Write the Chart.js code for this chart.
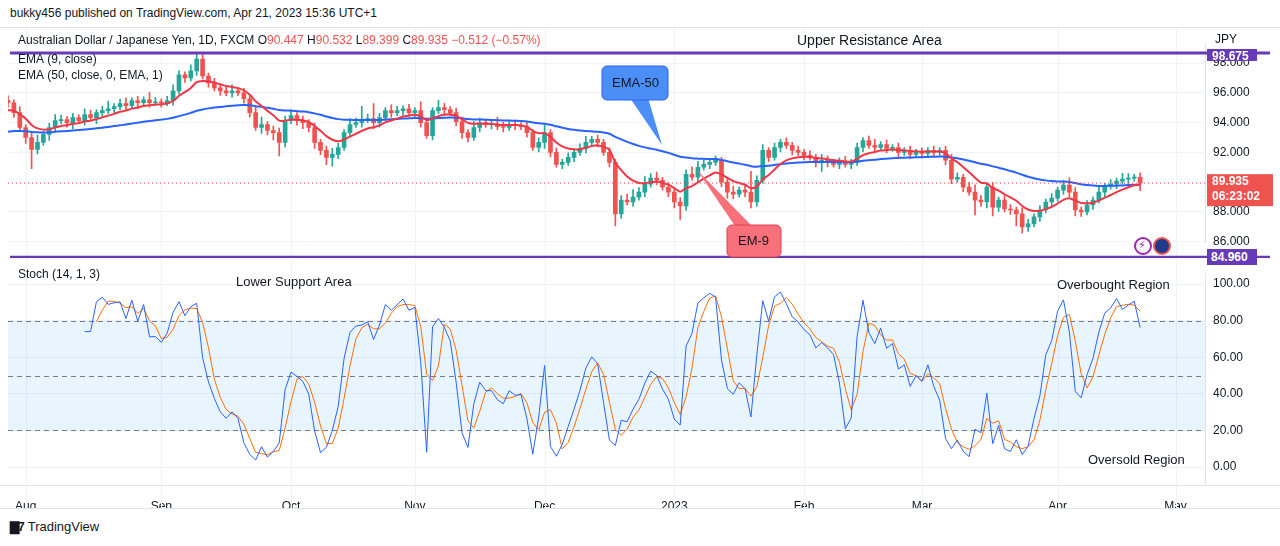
<!doctype html>
<html lang="en">
<head>
<meta charset="utf-8" />
<title>AUDJPY 1D</title>
<style>
  body { margin: 0; background: #fff; font-family: "Liberation Sans", Arial, sans-serif; color: #131722; }
  #wrap { position: relative; width: 1280px; height: 546px; overflow: hidden; }
  .abs { position: absolute; }
  #top { left: 0; top: 28px; }
  #bot { left: 0; top: 258px; }
  #hdr { left: 10px; top: 6px; font-size: 12px; }
  #logo { left: 10px; top: 519px; font-size: 13px; }
  #logo b { font-size: 12px; letter-spacing: -1px; margin-right: 4px; }
  #sup { left: 1207px; top: 249px; width: 46px; height: 16px; line-height: 16px; padding-left: 4px;
         background: #673ab7; color: #fff; font-weight: bold; font-size: 12px; z-index: 2; }
</style>
</head>
<body>
<div id="wrap">
  <div id="hdr" class="abs">bukky456 published on TradingView.com, Apr 21, 2023 15:36 UTC+1</div>
  <div class="abs" style="left:0;top:27px;width:1280px;height:1px;background:#e0e3eb"></div>
  <canvas id="top" class="abs" width="1280" height="230"></canvas>
  <canvas id="bot" class="abs" width="1280" height="250"></canvas>
  <div id="sup" class="abs">84.960</div>
  <div class="abs" style="left:0;top:508px;width:1280px;height:1px;background:#e0e3eb"></div>
  <div id="logo" class="abs"><b>&#x2587;7</b>TradingView</div>
</div>
<script src="https://cdn.jsdelivr.net/npm/chart.js@4.4.1/dist/chart.umd.min.js"></script>
<script>
// daily closes, Jul 27 2022 .. Apr 21 2023
const closes = [
  95.33,94.67,93.67,93.0,92.2,92.67,93.2,93.67,94.13,94.2,
  94.0,94.33,94.13,94.53,94.33,94.67,94.8,94.93,95.07,95.27,
  95.13,95.47,95.33,95.53,95.33,95.4,95.33,95.47,96.13,97.2,
  97.0,97.47,98.27,97.13,96.67,96.33,96.13,96.0,96.13,96.0,
  95.6,94.67,93.67,93.87,93.47,93.33,92.67,94.13,94.47,94.13,
  94.0,93.67,92.67,92.13,91.67,91.87,92.33,93.33,93.87,94.0,
  94.2,94.27,94.0,94.33,94.8,94.67,94.8,94.93,94.67,94.8,
  94.0,93.13,94.8,95.0,94.87,94.67,94.07,93.33,93.0,93.67,
  94.0,93.87,93.87,93.73,93.67,93.87,93.8,93.73,93.33,92.33,
  92.67,93.33,92.0,91.2,91.33,91.67,92.0,92.27,92.67,92.87,
  92.67,92.0,91.33,87.87,88.8,88.67,89.0,89.33,89.87,90.27,
  90.13,89.67,89.33,88.67,88.4,90.53,90.33,91.0,91.2,91.33,
  91.47,90.0,89.33,89.2,89.47,89.33,88.67,90.13,92.13,91.67,
  92.33,92.67,92.47,92.13,92.0,91.8,91.67,91.33,91.47,91.33,
  91.2,91.33,91.2,91.33,92.33,92.8,92.47,92.33,92.53,92.27,
  92.33,92.0,92.13,91.87,92.0,91.93,92.13,92.0,92.13,91.47,
  90.2,90.33,89.67,89.33,88.8,88.67,89.67,88.33,88.8,88.2,
  88.13,87.87,87.0,87.2,87.67,88.13,88.67,88.93,89.47,89.8,
  89.33,88.13,88.0,88.47,88.8,89.33,89.73,89.87,90.07,90.2,
  90.27,90.33,89.935
];
const firstOpen = 95.5;
const upWick = [
  0.3,0.2,0.4,0.2,0.3,0.5,0.2,0.3,0.4,0.3,
  0.2,0.3,0.2,0.4,0.3,0.2,0.3,0.5,0.2,0.3,
  0.4,0.2,0.3,0.2,0.5,0.3,0.2,0.3,0.4,0.3,
  0.2,0.4,0.4,0.3,0.2,0.3,0.2,0.3,0.4,0.2,
  0.3,0.2,0.4,0.5,0.2,0.3,0.3,0.3,0.4,0.2,
  0.3,0.2,0.3,0.2,0.3,0.4,0.3,0.2,0.4,0.3,
  0.9,0.3,1.0,0.3,0.2,0.4,0.3,0.2,0.3,0.2,
  0.6,0.3,0.2,0.5,0.3,0.2,0.3,0.3,0.2,0.4,
  0.3,0.2,0.3,0.5,0.3,0.2,0.3,0.2,0.3,0.2,
  0.3,0.5,0.2,0.3,0.2,0.3,0.2,0.3,0.4,0.2,
  0.3,0.2,0.3,0.2,0.3,0.4,0.5,0.3,0.5,0.3,
  0.4,0.2,0.3,0.2,0.3,0.3,0.5,0.4,0.3,0.2,
  0.3,0.2,0.3,0.4,0.2,0.3,1.4,0.3,0.4,0.2,
  0.3,0.2,0.3,0.2,0.3,0.2,0.3,0.2,0.4,0.3,
  0.2,0.3,0.4,0.2,0.3,0.2,0.3,0.4,0.2,0.3,
  0.2,0.3,0.2,0.3,0.2,0.3,0.2,0.3,0.2,0.3,
  0.4,0.3,0.2,0.3,0.5,0.3,0.2,0.3,0.2,0.3,
  0.3,0.2,0.4,0.3,0.2,0.3,0.2,0.3,0.2,0.3,
  0.5,0.3,0.2,0.3,0.2,0.4,0.2,0.3,0.2,0.4,
  0.3,0.2,0.3
];
const dnWick = [
  0.3,0.3,0.2,0.4,1.3,0.3,0.2,0.4,0.3,0.2,
  0.3,0.4,0.2,0.3,0.2,0.4,0.3,0.2,0.3,0.2,
  0.3,0.2,0.4,0.2,0.3,0.2,0.3,0.2,0.3,0.2,
  0.3,0.2,0.3,0.2,0.3,0.2,0.3,0.2,0.3,0.2,
  0.3,0.3,0.2,0.4,0.3,0.5,0.9,0.3,0.2,0.3,
  0.4,0.3,0.4,0.3,0.5,0.6,0.3,0.2,0.3,0.2,
  0.3,0.2,0.4,0.3,0.2,0.3,0.2,0.3,0.2,0.3,
  0.3,0.2,0.3,0.2,0.3,0.2,0.3,0.4,0.3,0.2,
  0.3,0.2,0.3,0.2,0.3,0.2,0.3,0.2,0.3,0.2,
  0.3,0.4,0.3,0.2,0.3,0.2,0.3,0.2,0.3,0.2,
  0.3,0.2,0.3,0.8,0.3,0.2,0.3,0.2,0.3,0.2,
  0.3,0.2,0.3,0.4,0.9,0.3,0.2,0.3,0.2,0.3,
  0.2,0.3,0.4,0.3,0.2,0.3,0.4,0.3,0.2,0.3,
  0.2,0.3,0.2,0.3,0.2,0.3,0.2,0.3,0.6,0.3,
  0.2,0.3,0.2,0.3,0.2,0.3,0.2,0.3,0.2,0.3,
  0.2,0.3,0.2,0.3,0.2,0.3,0.2,0.3,0.2,0.3,
  0.3,0.2,0.3,0.2,1.0,0.3,0.4,0.6,0.3,0.2,
  0.3,0.8,0.4,0.3,0.2,0.3,0.2,0.3,0.2,0.3,
  0.3,0.4,0.3,0.2,0.3,0.2,0.3,0.2,0.3,0.2,
  0.3,0.2,0.5
];
const ema9Seed = 94.7;
const ema50Seed = 93.3;
const monthLabels = ["Aug", "Sep", "Oct", "Nov", "Dec", "2023", "Feb", "Mar", "Apr", "May"];
const priceTicks = [86, 88, 90, 92, 94, 96, 98];
const stochTicks = [0, 20, 40, 60, 80, 100];
const lastPrice = 89.935;
const resistance = 98.675;
const support = 84.96;

const GREEN = "#26a69a", RED = "#ef5350";

// weekday dates
const dates = [];
let d = new Date(2022, 6, 27);
const total = closes.length + 11;
while (dates.length < total) {
  if (d.getDay() !== 0 && d.getDay() !== 6) dates.push(new Date(d));
  d.setDate(d.getDate() + 1);
}
const labels = dates.map((x) => x.toDateString());
const monthStart = dates.map((x, i) => i > 0 && x.getMonth() !== dates[i - 1].getMonth());

const opens = closes.map((c, i) => (i === 0 ? firstOpen : closes[i - 1]));
const highs = closes.map((c, i) => Math.max(c, opens[i]) + upWick[i]);
const lows = closes.map((c, i) => Math.min(c, opens[i]) - dnWick[i]);
const colors = closes.map((c, i) => (c >= opens[i] ? GREEN : RED));

function ema(values, n, seed) {
  const k = 2 / (n + 1);
  let prev = seed;
  return values.map((v) => (prev = v * k + prev * (1 - k)));
}
const ema9 = ema(closes, 9, ema9Seed);
const ema50 = ema(closes, 50, ema50Seed);

const stochK = closes.map((c, i) => {
  if (i < 13) return null;
  const hh = Math.max(...highs.slice(i - 13, i + 1));
  const ll = Math.min(...lows.slice(i - 13, i + 1));
  return (100 * (c - ll)) / (hh - ll);
});
const stochD = stochK.map((k, i) =>
  i < 15 ? null : (stochK[i] + stochK[i - 1] + stochK[i - 2]) / 3
);

const fixedRight = (w) => (scale) => { scale.width = w; };

function monthGrid(chart) {
  const { ctx, scales } = chart;
  ctx.save();
  ctx.strokeStyle = "#f0f3fa"; ctx.lineWidth = 1;
  monthStart.forEach((m, i) => {
    if (!m) return;
    const x = Math.round(scales.x.getPixelForValue(i)) + 0.5;
    ctx.beginPath(); ctx.moveTo(x, 0); ctx.lineTo(x, chart.height); ctx.stroke();
  });
  ctx.restore();
}

function drawBox(ctx, x, y, w, h, bg, lines, color) {
  ctx.fillStyle = bg;
  ctx.fillRect(x, y, w, h);
  ctx.fillStyle = color || "#fff";
  ctx.font = "bold 12px 'Liberation Sans', Arial";
  ctx.textBaseline = "middle";
  lines.forEach((t, i) => ctx.fillText(t, x + 5, y + 8 + i * 15));
}

const topOverlay = {
  id: "topOverlay",
  beforeDatasetsDraw(chart) { monthGrid(chart); },
  afterDatasetsDraw(chart) {
    const { ctx, chartArea, scales } = chart;
    const y = scales.y;
    ctx.save();
    ctx.strokeStyle = RED; ctx.lineWidth = 1; ctx.setLineDash([1, 3]);
    const yl = y.getPixelForValue(lastPrice);
    ctx.beginPath(); ctx.moveTo(chartArea.left, yl); ctx.lineTo(chartArea.right, yl); ctx.stroke();
    ctx.setLineDash([]);
    ctx.strokeStyle = "#673ab7"; ctx.lineWidth = 3;
    [resistance, support].forEach((v) => {
      const p = y.getPixelForValue(v);
      ctx.beginPath(); ctx.moveTo(10, p); ctx.lineTo(1270, p); ctx.stroke();
    });
    ctx.fillStyle = "#131722";
    ctx.font = "14px 'Liberation Sans', Arial";
    ctx.textBaseline = "middle";
    ctx.fillText("Upper Resistance Area", 797, 13);
    ctx.font = "12px 'Liberation Sans', Arial";
    ctx.fillText("Australian Dollar / Japanese Yen, 1D, FXCM", 18, 13);
    let x = 18 + ctx.measureText("Australian Dollar / Japanese Yen, 1D, FXCM ").width;
    const parts = [["O", "90.447"], ["H", "90.532"], ["L", "89.399"], ["C", "89.935"], ["", "\u22120.512 (\u22120.57%)"]];
    parts.forEach(([a, b]) => {
      ctx.fillStyle = "#131722"; ctx.fillText(a, x, 13); x += ctx.measureText(a).width;
      ctx.fillStyle = RED; ctx.fillText(b, x, 13); x += ctx.measureText(b + " ").width;
    });
    ctx.fillStyle = "#131722";
    ctx.fillText("EMA (9, close)", 18, 32);
    ctx.fillText("EMA (50, close, 0, EMA, 1)", 18, 48);
    ctx.fillText("JPY", 1215, 12);
    // callouts
    ctx.fillStyle = "#4c8ef7"; ctx.strokeStyle = "#2962ff"; ctx.lineWidth = 1;
    ctx.beginPath(); ctx.moveTo(630, 70); ctx.lineTo(662, 117); ctx.lineTo(648, 70); ctx.closePath(); ctx.fill();
    ctx.beginPath(); ctx.roundRect(602, 38, 66, 34, 5); ctx.fill(); ctx.stroke();
    ctx.fillStyle = "#131722"; ctx.font = "13px 'Liberation Sans', Arial";
    ctx.fillText("EMA-50", 612, 55);
    ctx.fillStyle = "#f7707a"; ctx.strokeStyle = "#e0404f";
    ctx.beginPath(); ctx.moveTo(735, 198); ctx.lineTo(697, 142); ctx.lineTo(752, 198); ctx.closePath(); ctx.fill();
    ctx.beginPath(); ctx.roundRect(727, 197, 54, 32, 5); ctx.fill(); ctx.stroke();
    ctx.fillStyle = "#131722";
    ctx.fillText("EM-9", 738, 213);
    // icons
    ctx.lineWidth = 2;
    ctx.strokeStyle = "#9c27b0"; ctx.beginPath(); ctx.arc(1143, 218, 8, 0, Math.PI * 2); ctx.stroke();
    ctx.fillStyle = "#9c27b0"; ctx.font = "bold 11px 'DejaVu Sans'"; ctx.fillText("\u26a1", 1138, 218);
    ctx.strokeStyle = RED; ctx.fillStyle = "#1e3a8a";
    ctx.beginPath(); ctx.arc(1162, 218, 8, 0, Math.PI * 2); ctx.fill(); ctx.stroke();
    // right axis labels
    drawBox(ctx, 1207, yl - 9, 66, 32, RED, ["89.935", "06:23:02"]);
    drawBox(ctx, 1207, y.getPixelForValue(resistance) - 4, 50, 12, "#673ab7", ["98.675"]);
    ctx.restore();
  },
};

const botOverlay = {
  id: "botOverlay",
  beforeDatasetsDraw(chart) {
    monthGrid(chart);
    const { ctx, chartArea, scales } = chart;
    const y = scales.y;
    ctx.save();
    ctx.fillStyle = "rgba(33,150,243,0.1)";
    const y80 = y.getPixelForValue(80), y20 = y.getPixelForValue(20);
    ctx.fillRect(chartArea.left, y80, chartArea.right - chartArea.left, y20 - y80);
    ctx.strokeStyle = "#787b86"; ctx.lineWidth = 1; ctx.setLineDash([5, 4]);
    [80, 50, 20].forEach((v) => {
      const p = Math.round(y.getPixelForValue(v)) + 0.5;
      ctx.beginPath(); ctx.moveTo(chartArea.left, p); ctx.lineTo(chartArea.right, p); ctx.stroke();
    });
    ctx.restore();
  },
  afterDatasetsDraw(chart) {
    const { ctx } = chart;
    ctx.save();
    ctx.fillStyle = "#131722"; ctx.textBaseline = "middle";
    ctx.font = "12px 'Liberation Sans', Arial";
    ctx.fillText("Stoch (14, 1, 3)", 18, 17);
    ctx.font = "13px 'Liberation Sans', Arial";
    ctx.fillText("Lower Support Area", 236, 24);
    ctx.fillText("Overbought Region", 1057, 27);
    ctx.fillText("Oversold Region", 1088, 202);
    ctx.strokeStyle = "#e0e3eb";
    ctx.beginPath(); ctx.moveTo(0, 227.5); ctx.lineTo(1280, 227.5); ctx.stroke();
    ctx.restore();
  },
};

const monthTick = (v, i) => {
  if (!monthStart[i]) return null;
  return monthLabels[dates[i].getMonth() === 0 ? 5 : (dates[i].getMonth() + 12 - 7) % 12];
};

new Chart(document.getElementById("top"), {
  data: {
    labels: labels,
    datasets: [
      { type: "bar", data: closes.map((c, i) => [lows[i], highs[i]]), backgroundColor: colors, barThickness: 1, grouped: false, order: 3 },
      { type: "bar", data: closes.map((c, i) => [opens[i], c]), backgroundColor: colors, barThickness: 4, grouped: false, minBarLength: 1, order: 2 },
      { type: "line", data: ema50, borderColor: "#2962ff", borderWidth: 2, pointRadius: 0, tension: 0.3, order: 1 },
      { type: "line", data: ema9, borderColor: "#f23645", borderWidth: 2, pointRadius: 0, tension: 0.3, order: 0 },
    ],
  },
  options: {
    responsive: false, animation: false,
    layout: { padding: { left: 8, right: 0, top: 0, bottom: 0 } },
    plugins: { legend: { display: false }, tooltip: { enabled: false } },
    scales: {
      x: { display: true, offset: false, afterFit: (s) => { s.height = 0; },
           ticks: { display: false }, grid: { display: false }, border: { display: false } },
      y: {
        position: "right", min: 85.93, max: 99.33, afterFit: fixedRight(75),
        afterBuildTicks: (s) => { s.ticks = priceTicks.map((v) => ({ value: v })); },
        ticks: { color: "#131722", font: { size: 12 }, padding: 8, callback: (v) => v.toFixed(3) },
        grid: { color: "#f0f3fa", drawTicks: false }, border: { color: "#e0e3eb" },
      },
    },
  },
  plugins: [topOverlay],
});

new Chart(document.getElementById("bot"), {
  data: {
    labels: labels,
    datasets: [
      { type: "line", data: stochK, borderColor: "#2962ff", borderWidth: 1, pointRadius: 0 },
      { type: "line", data: stochD, borderColor: "#ff6d00", borderWidth: 1, pointRadius: 0 },
    ],
  },
  options: {
    responsive: false, animation: false,
    layout: { padding: { left: 8, right: 0, top: 4, bottom: 0 } },
    plugins: { legend: { display: false }, tooltip: { enabled: false } },
    scales: {
      x: {
        offset: false, afterFit: (s) => { s.height = 23; },
        ticks: { autoSkip: false, maxRotation: 0, color: "#131722", font: { size: 12 }, padding: 6, callback: monthTick },
        grid: { display: false }, border: { color: "#e0e3eb" },
      },
      y: {
        position: "right", min: -9.8, max: 106, afterFit: fixedRight(75),
        afterBuildTicks: (s) => { s.ticks = stochTicks.map((v) => ({ value: v })); },
        ticks: { color: "#131722", font: { size: 12 }, padding: 8, callback: (v) => v.toFixed(2) },
        grid: { color: "#f0f3fa", drawTicks: false }, border: { color: "#e0e3eb" },
      },
    },
  },
  plugins: [botOverlay],
});
</script>
</body>
</html>
